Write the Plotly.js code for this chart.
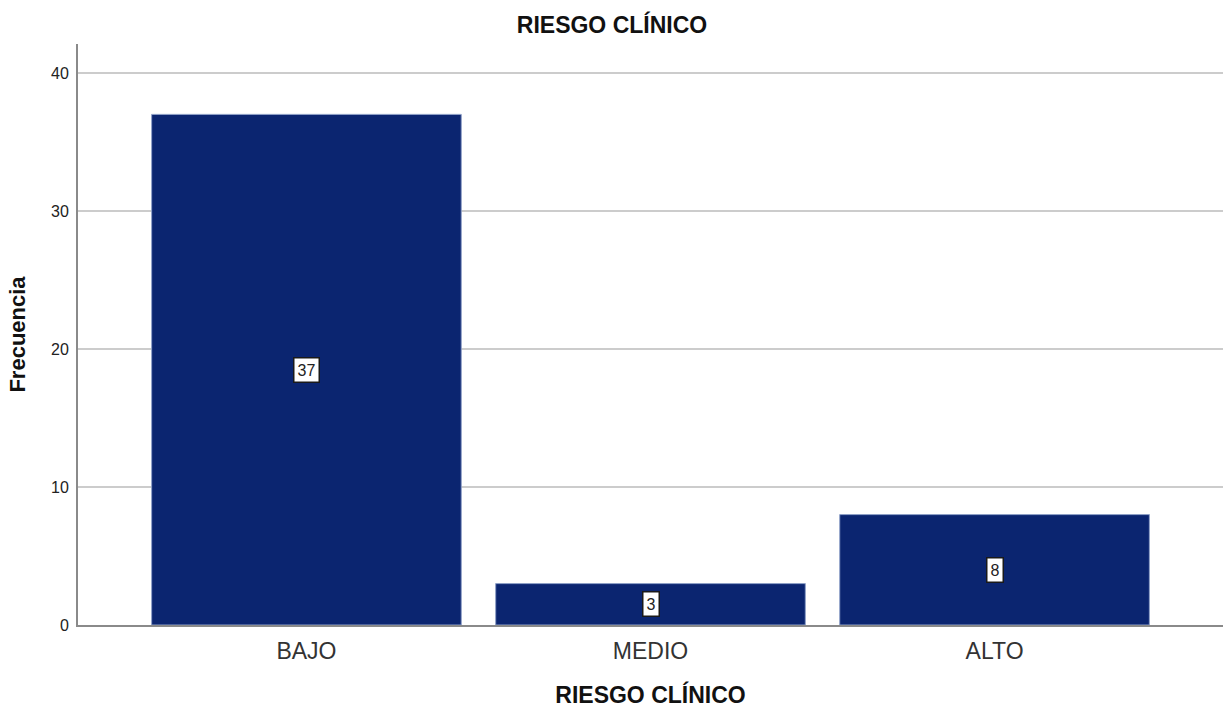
<!DOCTYPE html>
<html>
<head>
<meta charset="utf-8">
<script src="https://cdn.plot.ly/plotly-3.0.1.min.js"></script>
<style>
  html, body { margin: 0; padding: 0; background: #ffffff; }
  #chart { width: 1224px; height: 711px; }
</style>
</head>
<body>
<div id="chart"></div>
<script>
// Frequency of clinical risk levels
const categories = ["BAJO", "MEDIO", "ALTO"];
const frequencies = [37, 3, 8];
const yTicks = [0, 10, 20, 30, 40];

const barColor = "#0b2570";
const font = "Liberation Sans, Arial, sans-serif";

const trace = {
  type: "bar",
  x: categories,
  y: frequencies,
  marker: { color: barColor, line: { color: "#8fa0c8", width: 1 } },
  hoverinfo: "x+y"
};

// Value labels boxed at the middle of each bar
const labels = categories.map((c, i) => ({
  x: c,
  y: frequencies[i] / 2,
  xref: "x",
  yref: "y",
  text: String(frequencies[i]),
  showarrow: false,
  bgcolor: "#ffffff",
  bordercolor: "#1a1a1a",
  borderwidth: 1.5,
  borderpad: 3,
  font: { family: font, size: 16, color: "#222222" }
}));

const layout = {
  width: 1224,
  height: 711,
  margin: { l: 78, r: 1, t: 44, b: 86 },
  paper_bgcolor: "#ffffff",
  plot_bgcolor: "#ffffff",
  showlegend: false,
  bargap: 0.1,
  title: {
    text: "<b>RIESGO CLÍNICO</b>",
    x: 0.5,
    xanchor: "center",
    y: 0.965,
    yanchor: "middle",
    font: { family: font, size: 23, color: "#111111" }
  },
  xaxis: {
    type: "category",
    range: [-0.664, 2.664],
    showgrid: false,
    showline: true,
    linecolor: "#8a8a8a",
    linewidth: 2,
    ticks: "outside",
    ticklen: 4,
    tickcolor: "rgba(0,0,0,0)",
    tickfont: { family: font, size: 23, color: "#333333" },
    title: {
      text: "<b>RIESGO CLÍNICO</b>",
      font: { family: font, size: 23, color: "#111111" },
      standoff: 24
    }
  },
  yaxis: {
    range: [0, 42.1],
    tickvals: yTicks,
    ticktext: yTicks.map(String),
    showgrid: true,
    gridcolor: "#cccccc",
    gridwidth: 2,
    zeroline: false,
    showline: true,
    linecolor: "#8a8a8a",
    linewidth: 2,
    ticks: "outside",
    ticklen: 4,
    tickcolor: "rgba(0,0,0,0)",
    tickfont: { family: font, size: 16, color: "#222222" },
    title: {
      text: "<b>Frecuencia</b>",
      font: { family: font, size: 22, color: "#111111" },
      standoff: 19
    }
  },
  annotations: labels
};

Plotly.newPlot("chart", [trace], layout, { displayModeBar: false, staticPlot: true });
</script>
</body>
</html>
